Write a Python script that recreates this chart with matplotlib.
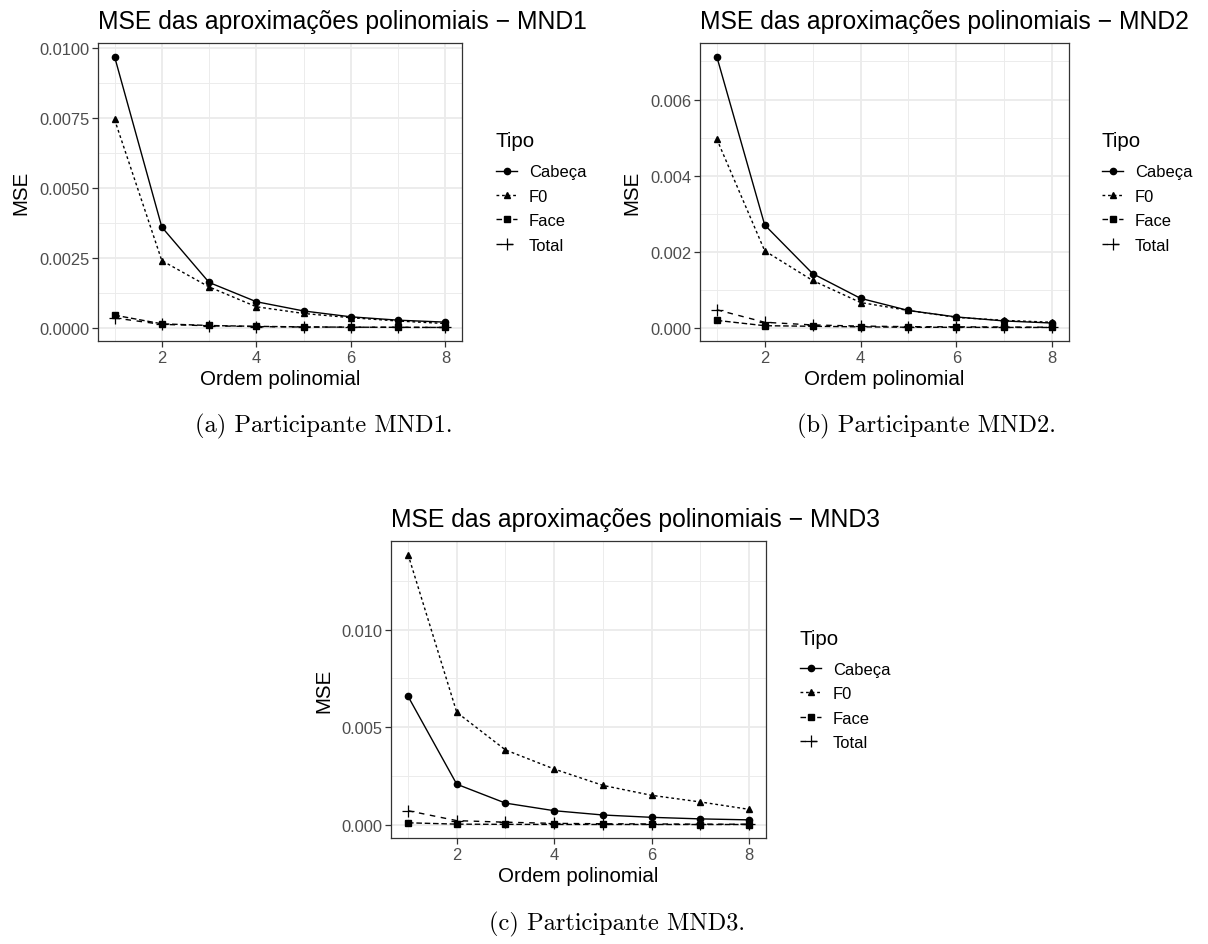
import matplotlib.pyplot as plt
from matplotlib.ticker import FormatStrFormatter, MultipleLocator, FixedLocator

plt.rcParams['font.family'] = ['Liberation Sans', 'DejaVu Sans']

# data
ordem = [1, 2, 3, 4, 5, 6, 7, 8]
tipos = ['Cabeça', 'F0', 'Face', 'Total']

mnd1_cabeca = [0.00970, 0.00360, 0.00162, 0.00093, 0.00060, 0.00039, 0.00027, 0.00020]
mnd1_f0 = [0.00745, 0.00240, 0.00146, 0.00075, 0.00051, 0.00036, 0.00024, 0.00015]
mnd1_face = [0.00045, 0.00014, 0.00008, 0.00005, 0.00003, 0.00002, 0.000015, 0.00001]
mnd1_total = [0.00035, 0.00012, 0.00007, 0.00004, 0.000025, 0.00002, 0.000015, 0.00001]

mnd2_cabeca = [0.00713, 0.00270, 0.00142, 0.00077, 0.00045, 0.00028, 0.000175, 0.00012]
mnd2_f0 = [0.00496, 0.00202, 0.00124, 0.00066, 0.00045, 0.00027, 0.00019, 0.00014]
mnd2_face = [0.00019, 0.00005, 0.000035, 0.00002, 0.00001, 0.000008, 0.000005, 0.000004]
mnd2_total = [0.00047, 0.00014, 0.00007, 0.00004, 0.000025, 0.00002, 0.000015, 0.00001]

mnd3_cabeca = [0.00658, 0.00207, 0.00110, 0.00071, 0.00049, 0.00037, 0.00029, 0.00024]
mnd3_f0 = [0.01386, 0.00576, 0.00383, 0.00285, 0.00201, 0.00150, 0.00116, 0.00078]
mnd3_face = [0.00009, 0.00002, 0.00001, 0.000005, 0.000004, 0.000003, 0.000002, 0.000002]
mnd3_total = [0.00071, 0.00020, 0.00012, 0.00006, 0.00004, 0.00003, 0.00002, 0.000015]

x_ticks = [2, 4, 6, 8]
mnd1_yticks = [0.0, 0.0025, 0.005, 0.0075, 0.01]
mnd2_yticks = [0.0, 0.002, 0.004, 0.006]
mnd3_yticks = [0.0, 0.005, 0.010]

W, H = 1208, 945
fig = plt.figure(figsize=(W / 100, H / 100), dpi=100)


def box(l, t, r, b):
    return [l / W, 1 - b / H, (r - l) / W, (b - t) / H]


styles = [
    dict(ls='-', marker='o', ms=4.5),
    dict(ls=(0, (2, 2)), marker='^', ms=5),
    dict(ls=(0, (4, 2)), marker='s', ms=4.5),
    dict(ls=(0, (4, 4)), marker='+', ms=8, mew=0.9),
]

panels = [
    (box(98, 44, 462, 342), 'MND1', [mnd1_cabeca, mnd1_f0, mnd1_face, mnd1_total],
     mnd1_yticks, '%.4f', 496, (324, 432), 'a'),
    (box(700, 44, 1069, 342), 'MND2', [mnd2_cabeca, mnd2_f0, mnd2_face, mnd2_total],
     mnd2_yticks, '%.3f', 1102, (926, 432), 'b'),
    (box(391, 542, 766, 839), 'MND3', [mnd3_cabeca, mnd3_f0, mnd3_face, mnd3_total],
     mnd3_yticks, '%.3f', 800, (617, 930), 'c'),
]

for rect, nome, series, yticks, fmt, leg_x, cap_xy, letra in panels:
    ax = fig.add_axes(rect)
    for s, lab, st in zip(series, tipos, styles):
        ax.plot(ordem, s, color='black', lw=1.0, label=lab, **st)

    allv = [v for s in series for v in s]
    lo, hi = min(allv), max(allv)
    pad = 0.05 * (hi - lo)
    ax.set_ylim(lo - pad, hi + pad)
    ax.set_xlim(1 - 0.35, 8 + 0.35)

    ax.xaxis.set_major_locator(FixedLocator(x_ticks))
    ax.xaxis.set_minor_locator(FixedLocator([1, 3, 5, 7]))
    ax.yaxis.set_major_locator(FixedLocator(yticks))
    ax.yaxis.set_minor_locator(MultipleLocator((yticks[1] - yticks[0]) / 2))
    ax.yaxis.set_major_formatter(FormatStrFormatter(fmt))

    ax.set_axisbelow(True)
    ax.grid(which='major', color='#EBEBEB', lw=1.3)
    ax.grid(which='minor', color='#EBEBEB', lw=0.65)
    ax.tick_params(which='major', length=4.3, width=0.9, color='#333333',
                   labelcolor='#4D4D4D', labelsize=11.9, pad=2)
    ax.tick_params(which='minor', length=0)
    for sp in ax.spines.values():
        sp.set_color('#333333')
        sp.set_linewidth(0.9)

    ax.set_title('MSE das aproximações polinomiais − ' + nome, loc='left',
                 fontsize=17.8, pad=10.6)
    ax.set_xlabel('Ordem polinomial', fontsize=14.8, labelpad=3)
    ax.set_ylabel('MSE', fontsize=14.8, labelpad=6)

    left_px = rect[0] * W
    width_px = rect[2] * W
    leg = ax.legend(title='Tipo', loc='center left',
                    bbox_to_anchor=((leg_x - left_px) / width_px, 0.5),
                    frameon=False, fontsize=11.9, title_fontsize=14.8,
                    handlelength=1.3, handletextpad=0.7, labelspacing=0.57,
                    borderpad=0, borderaxespad=0, alignment='left')
    leg._legend_box.sep = 10

    fig.text(cap_xy[0] / W, 1 - cap_xy[1] / H,
             '(%s) Participante %s.' % (letra, nome),
             family='cmr10', fontsize=17.6, ha='center', va='baseline')

fig.savefig('out.png', dpi=100)
